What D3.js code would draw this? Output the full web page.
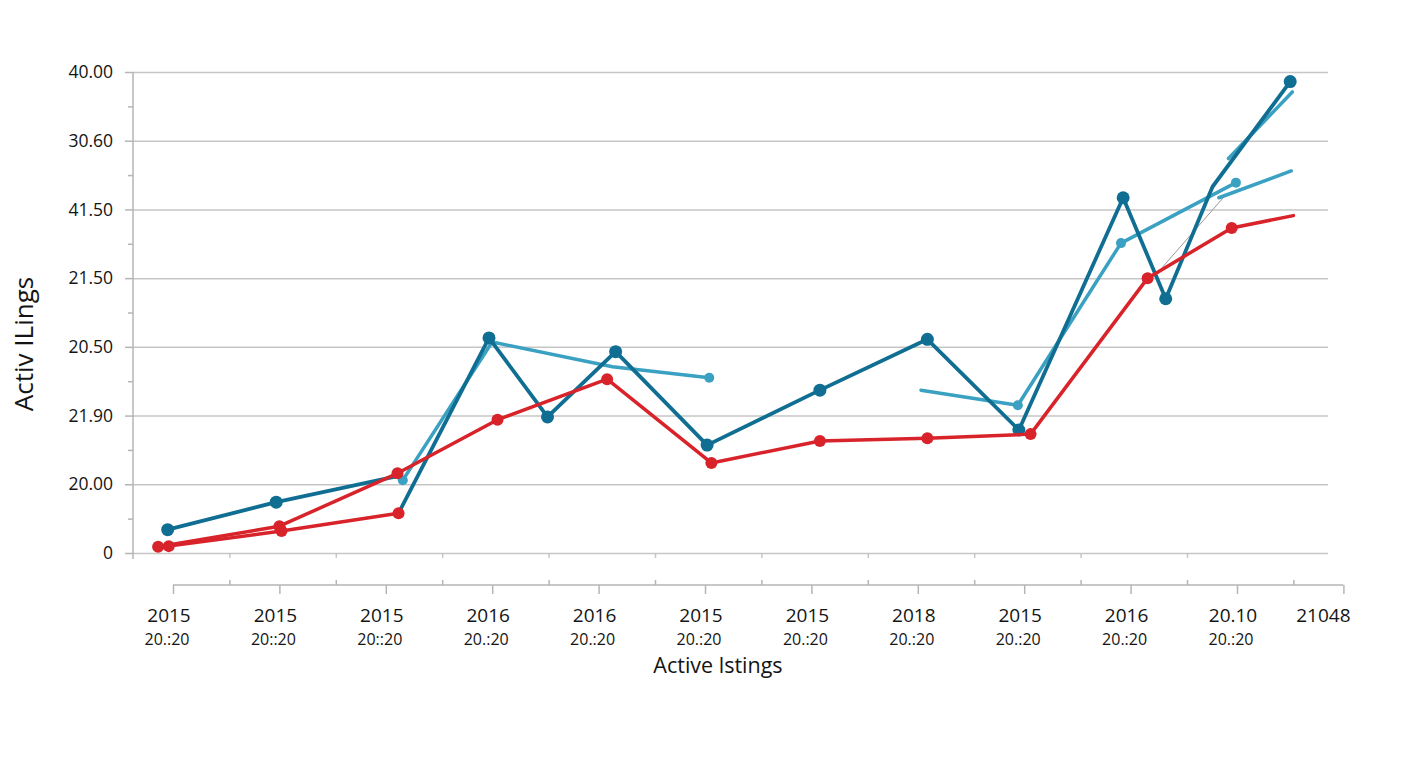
<!DOCTYPE html>
<html>
<head>
<meta charset="utf-8">
<script src="https://cdn.jsdelivr.net/npm/d3@7"></script>
<style>
	body { margin: 0; background: #fff; }
	text { font-family: "Open Sans", "Noto Sans", sans-serif; fill: #141414; }
</style>
</head>
<body>
<div id="chart"></div>
<script>
// tick labels, as printed on the chart
const yLabels = ["0", "20.00", "21.90", "20.50", "21.50", "41.50", "30.60", "40.00"]
const xLabelsTop = ["2015", "2015", "2015", "2016", "2016", "2015", "2015", "2018", "2015", "2016", "20.10", "21048"]
const xLabelsBottom = ["20.:20", "20::20", "20::20", "20.:20", "20.:20", "20.:20", "20.:20", "20.:20", "20.:20", "20.:20", "20.:20"]

// series points: [period position, value in grid steps]
const redMain = [[-0.14, 0.09], [1.00, 0.39], [2.11, 1.16], [3.05, 1.94], [4.08, 2.53], [5.06, 1.31], [6.08, 1.63], [7.09, 1.67], [8.06, 1.73], [9.16, 4.00], [9.95, 4.73], [10.53, 4.91]]
const redShort = [[-0.04, 0.10], [1.02, 0.32], [2.12, 0.58]]
const darkShort = [[-0.05, 0.34], [0.97, 0.74], [2.11, 1.12]]
const darkMain = [[2.12, 0.58], [2.97, 3.13], [3.52, 1.98], [4.16, 2.93], [5.02, 1.57], [6.08, 2.37], [7.09, 3.11], [7.95, 1.79], [8.93, 5.17], [9.33, 3.70], [9.77, 5.33], [10.50, 6.86]]
const lightA = [[2.16, 1.06], [3.00, 3.07], [4.13, 2.71], [5.04, 2.55]]
const lightB = [[7.03, 2.37], [7.94, 2.15], [8.91, 4.51], [9.99, 5.39]]
const lightC = [[9.83, 5.17], [10.51, 5.56]]
const lightD = [[9.92, 5.74], [10.52, 6.71]]
const greyThin = [[9.30, 4.16], [9.87, 5.17]]

// which points carry a dot
const redMainDots = [0, 1, 2, 3, 4, 5, 6, 7, 8, 9, 10]
const redShortDots = [0, 1, 2]
const darkShortDots = [0, 1]
const darkMainDots = [1, 2, 3, 4, 5, 6, 7, 8, 9, 11]
const lightADots = [0, 3]
const lightBDots = [1, 2, 3]

const dimensions = { width: 1408, height: 768 }
const margin = { top: 72, right: 80, bottom: 215, left: 133 }
const axisY = 585

const x = d3.scaleLinear()
	.domain([0, 10])
	.range([173, 1237])

const y = d3.scaleLinear()
	.domain([0, 7])
	.range([dimensions.height - margin.bottom, margin.top])

const svg = d3.select('#chart')
	.append('svg')
		.attr('width', dimensions.width)
		.attr('height', dimensions.height)

// grid
svg.append('g')
		.attr('transform', `translate(${margin.left},0)`)
	.call(d3.axisLeft(y).tickValues(d3.range(0, 8)).tickSize(-(dimensions.width - margin.right - margin.left)).tickFormat(''))
	.call(g => g.select('.domain').remove())
	.call(g => g.selectAll('line').attr('stroke', '#c6c6c6').attr('stroke-width', 1.5))

// y axis
svg.append('g')
		.attr('transform', `translate(${margin.left},0)`)
	.call(d3.axisLeft(y).tickValues(d3.range(0, 8)).tickSize(8).tickPadding(12).tickFormat(i => yLabels[i]))
	.call(g => g.select('.domain').attr('stroke', '#b5b5b5').attr('stroke-width', 1.5).attr('d', `M0,${y(7)}V${y(0) + 6}`))
	.call(g => g.selectAll('line').attr('stroke', '#b5b5b5').attr('stroke-width', 1.5))
	.call(g => g.selectAll('text').attr('font-size', 17.5))

svg.append('g')
		.attr('transform', `translate(${margin.left},0)`)
	.call(d3.axisLeft(y).tickValues(d3.range(0.5, 7, 1)).tickSize(5).tickFormat(''))
	.call(g => g.select('.domain').remove())
	.call(g => g.selectAll('line').attr('stroke', '#b5b5b5').attr('stroke-width', 1.5))

// small ticks under the baseline
const minorX = d3.range(0, 11).map(i => i + 0.53)
svg.append('g')
		.attr('transform', `translate(0,${y(0)})`)
	.call(d3.axisBottom(x).tickValues(minorX.slice(0, 10)).tickSize(5).tickFormat(''))
	.call(g => g.select('.domain').remove())
	.call(g => g.selectAll('line').attr('stroke', '#c6c6c6').attr('stroke-width', 1.5))

// x axis
const gx = svg.append('g')
		.attr('transform', `translate(0,${axisY})`)
	.call(d3.axisBottom(x).tickValues(d3.range(0, 12)).tickSize(9).tickFormat(''))
	.call(g => g.select('.domain').attr('stroke', '#b5b5b5').attr('stroke-width', 1.5).attr('d', `M${x(0)},0H${x(11)}`))
	.call(g => g.selectAll('line').attr('stroke', '#b5b5b5').attr('stroke-width', 1.5))

svg.append('g')
		.attr('transform', `translate(0,${axisY})`)
	.call(d3.axisTop(x).tickValues(minorX).tickSize(5).tickFormat(''))
	.call(g => g.select('.domain').remove())
	.call(g => g.selectAll('line').attr('stroke', '#b5b5b5').attr('stroke-width', 1.5))

gx.selectAll('text.top')
	.data(xLabelsTop)
	.join('text')
		.attr('class', 'top')
		.attr('x', (d, i) => x(i) - (i === 11 ? 20 : 4))
		.attr('y', 37)
		.attr('text-anchor', 'middle')
		.attr('font-size', 19)
		.text(d => d)

gx.selectAll('text.bottom')
	.data(xLabelsBottom)
	.join('text')
		.attr('class', 'bottom')
		.attr('x', (d, i) => x(i) - 6)
		.attr('y', 60)
		.attr('text-anchor', 'middle')
		.attr('font-size', 16)
		.text(d => d)

// titles
svg.append('text')
	.attr('x', 718)
	.attr('y', 673)
	.attr('text-anchor', 'middle')
	.attr('font-size', 21.5)
	.text('Active lstings')

svg.append('text')
	.attr('transform', 'translate(33,344) rotate(-90)')
	.attr('text-anchor', 'middle')
	.attr('font-size', 26)
	.text('Activ ILings')

// lines
const line = d3.line()
	.x(d => x(d[0]))
	.y(d => y(d[1]))

const series = [
	{ pts: greyThin, dots: [], color: '#9a9a9a', width: 1, r: 0 },
	{ pts: lightA, dots: lightADots, color: '#3aa1c3', width: 3.5, r: 5 },
	{ pts: lightB, dots: lightBDots, color: '#3aa1c3', width: 3.5, r: 5 },
	{ pts: lightC, dots: [], color: '#3aa1c3', width: 3.5, r: 0 },
	{ pts: lightD, dots: [], color: '#3aa1c3', width: 3.5, r: 0 },
	{ pts: darkShort, dots: darkShortDots, color: '#0f6e92', width: 3.8, r: 6.5 },
	{ pts: darkMain, dots: darkMainDots, color: '#0f6e92', width: 3.8, r: 6.5 },
	{ pts: redShort, dots: redShortDots, color: '#d8232a', width: 3.5, r: 6 },
	{ pts: redMain, dots: redMainDots, color: '#d8232a', width: 3.5, r: 6 }
]

series.forEach(s => {
	svg.append('path')
		.datum(s.pts)
		.attr('fill', 'none')
		.attr('stroke', s.color)
		.attr('stroke-width', s.width)
		.attr('stroke-linejoin', 'round')
		.attr('stroke-linecap', 'round')
		.attr('d', line)

	svg.append('g')
		.attr('fill', s.color)
	.selectAll('circle')
	.data(s.dots.map(i => s.pts[i]))
	.join('circle')
		.attr('cx', d => x(d[0]))
		.attr('cy', d => y(d[1]))
		.attr('r', s.r)
})
</script>
</body>
</html>
